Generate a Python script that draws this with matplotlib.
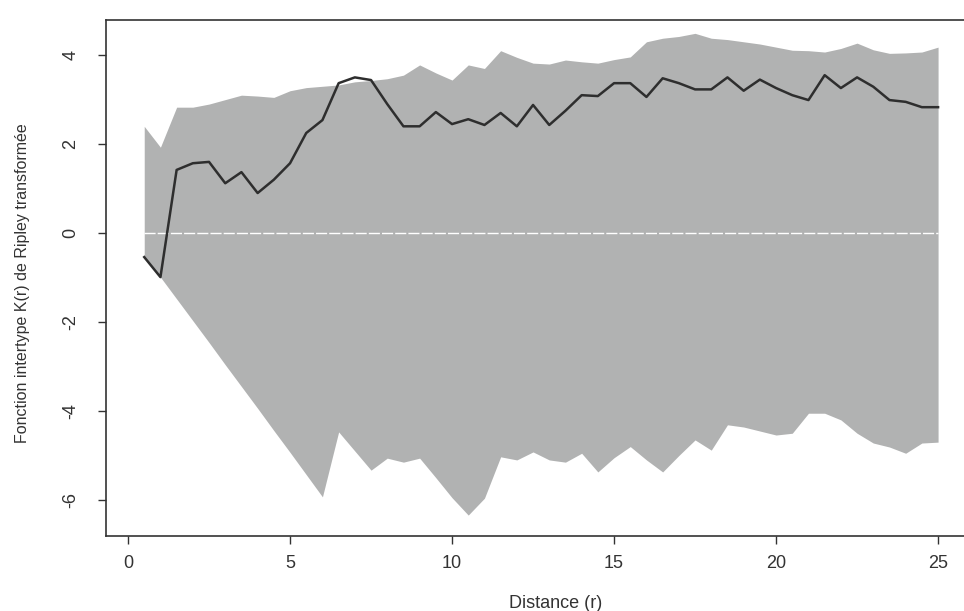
import matplotlib.pyplot as plt
import numpy as np

plt.rcParams['font.family'] = ['Liberation Sans', 'DejaVu Sans']

# distances r (step 0.5)
r = np.arange(1, 51) * 0.5

# observed transformed K function
k_obs = [-0.54, -0.99, 1.42, 1.57, 1.60, 1.12, 1.37, 0.90, 1.20, 1.57,
         2.25, 2.54, 3.37, 3.50, 3.44, 2.90, 2.40, 2.40, 2.72, 2.45,
         2.56, 2.43, 2.70, 2.40, 2.88, 2.43, 2.75, 3.10, 3.08, 3.37,
         3.37, 3.06, 3.48, 3.37, 3.23, 3.23, 3.50, 3.20, 3.45, 3.26,
         3.10, 2.99, 3.55, 3.26, 3.50, 3.29, 2.99, 2.95, 2.83, 2.83]

# simulation envelope
env_hi = [2.40, 1.93, 2.83, 2.83, 2.90, 3.00, 3.10, 3.08, 3.05, 3.20,
          3.27, 3.30, 3.33, 3.40, 3.43, 3.47, 3.55, 3.78, 3.60, 3.44,
          3.78, 3.70, 4.10, 3.95, 3.82, 3.80, 3.89, 3.85, 3.82, 3.90,
          3.96, 4.30, 4.38, 4.42, 4.49, 4.38, 4.35, 4.30, 4.25, 4.18,
          4.11, 4.10, 4.07, 4.15, 4.27, 4.12, 4.04, 4.05, 4.07, 4.18]
env_lo = [-0.54, -0.99, -1.48, -1.97, -2.46, -2.96, -3.45, -3.94, -4.44, -4.93,
          -5.43, -5.93, -4.47, -4.90, -5.33, -5.06, -5.15, -5.06, -5.50, -5.95,
          -6.34, -5.96, -5.03, -5.10, -4.92, -5.10, -5.15, -4.95, -5.37, -5.05,
          -4.80, -5.10, -5.37, -5.00, -4.65, -4.88, -4.31, -4.36, -4.45, -4.54,
          -4.50, -4.05, -4.05, -4.20, -4.50, -4.72, -4.81, -4.95, -4.72, -4.70]

xticks = [0, 5, 10, 15, 20, 25]
yticks = [-6, -4, -2, 0, 2, 4]

fig = plt.figure(figsize=(9.64, 6.11), dpi=100)
W, H = 964, 611
left, right, top, bottom = 106, 964, 20, 536
ax = fig.add_axes([left / W, 1 - bottom / H, (right - left) / W, (bottom - top) / H])

ax.fill_between(r, env_lo, env_hi, color='#b1b2b2', linewidth=0)
ax.hlines(0, r[0], r[-1], colors='white', linewidth=1.0, linestyles=(0, (8, 1.5)))
ax.plot(r, k_obs, color='#2e2e2e', linewidth=1.8)

ax.set_xlim(-0.68, 25.8)
ax.set_ylim(-6.81, 4.79)
ax.set_xticks(xticks)
ax.set_yticks(yticks)
ax.set_yticklabels([str(v) for v in yticks], rotation=90, va='center')

ax.spines['right'].set_visible(False)
for s in ['left', 'bottom', 'top']:
    ax.spines[s].set_color('#333333')
    ax.spines[s].set_linewidth(1.2)
ax.tick_params(axis='both', direction='out', length=6, width=1.0,
               colors='#333333', labelsize=13)
ax.tick_params(axis='x', pad=8)
ax.tick_params(axis='y', pad=13)

ax.set_xlabel('Distance (r)', fontsize=13, color='#333333')
ax.xaxis.set_label_coords(0.524, -0.115)
ax.set_ylabel('Fonction intertype K(r) de Ripley transformée', fontsize=11.5,
              color='#333333')
ax.yaxis.set_label_coords(-0.088, 0.49)

fig.savefig('out.png', dpi=100)
